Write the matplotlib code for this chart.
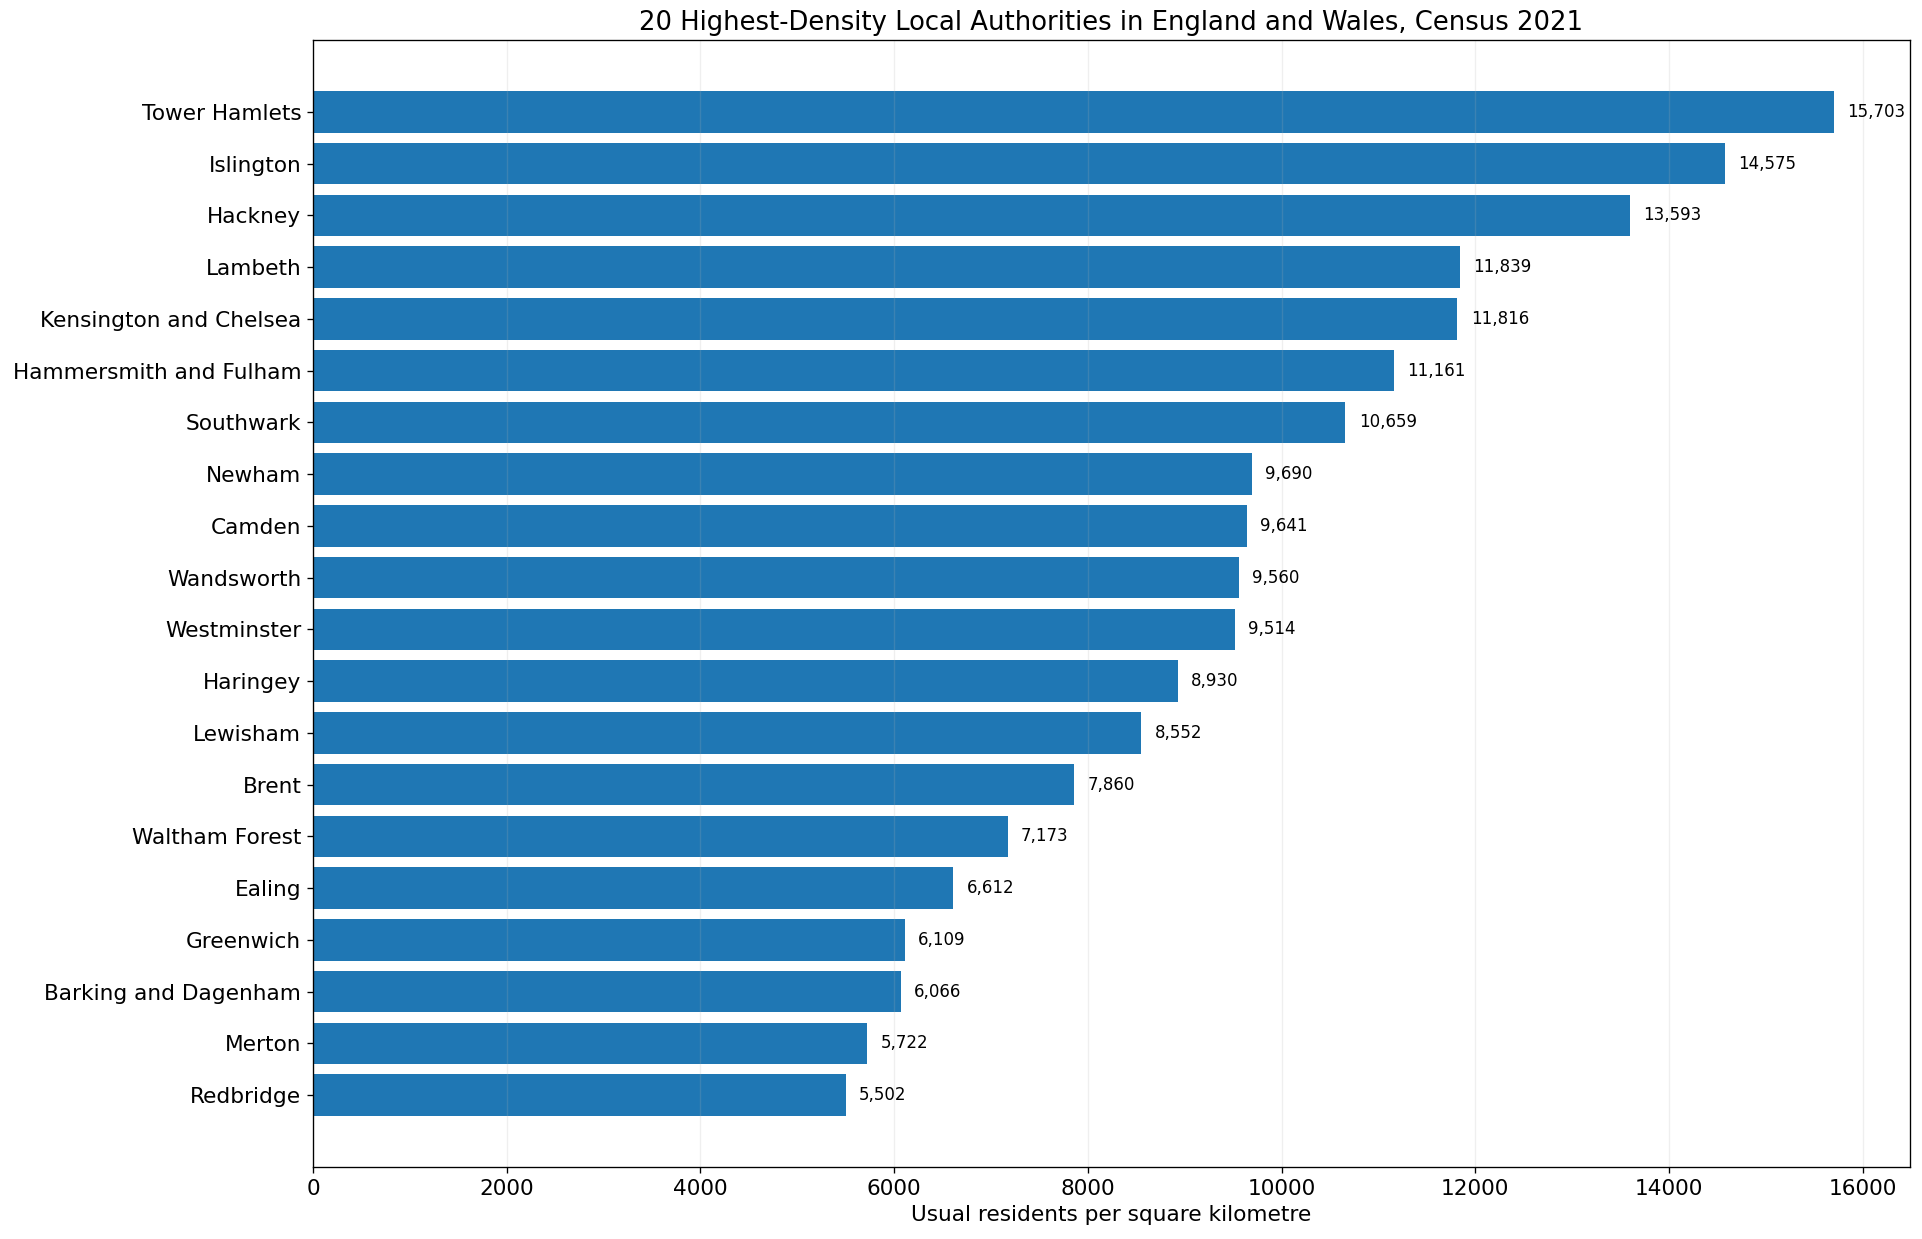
import matplotlib
matplotlib.use("Agg")
import matplotlib.pyplot as plt

authorities = ["Tower Hamlets", "Islington", "Hackney", "Lambeth", "Kensington and Chelsea",
               "Hammersmith and Fulham", "Southwark", "Newham", "Camden", "Wandsworth",
               "Westminster", "Haringey", "Lewisham", "Brent", "Waltham Forest", "Ealing",
               "Greenwich", "Barking and Dagenham", "Merton", "Redbridge"]
density = [15703, 14575, 13593, 11839, 11816, 11161, 10659, 9690, 9641, 9560,
           9514, 8930, 8552, 7860, 7173, 6612, 6109, 6066, 5722, 5502]

fig = plt.figure(figsize=(1923/120, 1239/120), dpi=120)
ax = fig.add_axes([313/1923, 1 - 1167/1239, (1910-313)/1923, (1167-40)/1239])

ypos = list(range(len(authorities)))
bars = ax.barh(ypos, density, color="#1f77b4", height=0.8)
ax.set_yticks(ypos)
ax.set_yticklabels(authorities, fontsize=13)
ax.invert_yaxis()
ax.tick_params(axis="x", labelsize=13)
ax.bar_label(bars, labels=[f"{v:,}" for v in density], padding=8, fontsize=10)
ax.grid(axis="x", alpha=0.2)
ax.set_xlabel("Usual residents per square kilometre", fontsize=13)
ax.set_title("20 Highest-Density Local Authorities in England and Wales, Census 2021", fontsize=15.5)

fig.savefig("out.png", dpi=120)
